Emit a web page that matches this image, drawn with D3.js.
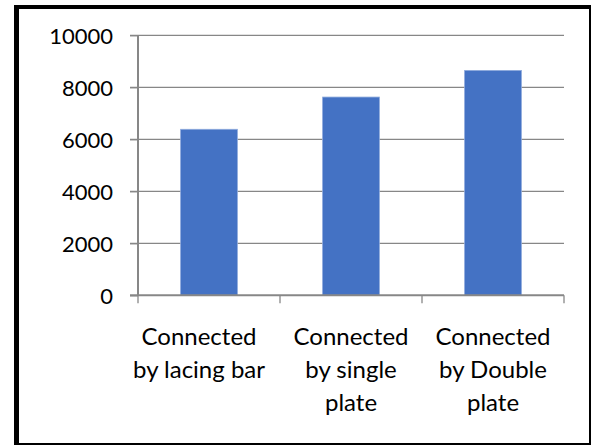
<!DOCTYPE html>
<html>
<head>
<meta charset="utf-8">
<script src="https://cdn.jsdelivr.net/npm/d3@7/dist/d3.min.js"></script>
<style>
  html, body { margin: 0; padding: 0; background: #fff; }
  svg { display: block; }
  text { font-family: Lato, "Open Sans", sans-serif; fill: #000; }
</style>
</head>
<body>
<svg id="chart" width="592" height="447"></svg>
<script>
// Connection type and the load each arrangement carries
const categories = [
  ["Connected", "by lacing bar"],
  ["Connected", "by single", "plate"],
  ["Connected", "by Double", "plate"]
];
const values = [6385, 7625, 8650];
const yTicks = [0, 2000, 4000, 6000, 8000, 10000];

(function draw() {
  const svg = d3.select("#chart");
  const W = 592, H = 447;

  // frame around the whole chart
  svg.append("rect").attr("x", 0).attr("y", 0).attr("width", W).attr("height", H).attr("fill", "#fff");
  svg.append("rect").attr("x", 14).attr("y", 5).attr("width", 5).attr("height", 440).attr("fill", "#000");
  svg.append("rect").attr("x", 14).attr("y", 5).attr("width", 577).attr("height", 4).attr("fill", "#000");
  svg.append("rect").attr("x", 589).attr("y", 5).attr("width", 2).attr("height", 440).attr("fill", "#000");
  svg.append("rect").attr("x", 14).attr("y", 443).attr("width", 577).attr("height", 2).attr("fill", "#000");

  const plotL = 138, plotR = 564, plotT = 35.3, plotB = 295.3;

  const x = d3.scaleBand()
    .domain(d3.range(categories.length))
    .range([plotL, plotR])
    .paddingInner(0.6)
    .paddingOuter(0.3);

  const y = d3.scaleLinear().domain([0, 10000]).range([plotB, plotT]);

  const grid = "#878787";

  // horizontal gridlines
  svg.append("g")
    .selectAll("line")
    .data(yTicks.filter(d => d > 0))
    .join("line")
    .attr("x1", plotL - 8).attr("x2", plotR)
    .attr("y1", d => y(d)).attr("y2", d => y(d))
    .attr("stroke", grid).attr("stroke-width", 1.3);

  // bars
  svg.append("g")
    .selectAll("rect")
    .data(values)
    .join("rect")
    .attr("x", (d, i) => x(i))
    .attr("width", x.bandwidth())
    .attr("y", d => y(d))
    .attr("height", d => y(0) - y(d))
    .attr("fill", "#4472C4")
    .attr("stroke", "#8FAADC")
    .attr("stroke-width", 0.8);

  // y axis
  const yAxis = d3.axisLeft(y).tickValues(yTicks).tickSize(8).tickPadding(17).tickFormat(d3.format("d"));
  const gy = svg.append("g").attr("transform", `translate(${plotL},0)`).call(yAxis);
  gy.select(".domain").attr("stroke", grid).attr("stroke-width", 2).attr("d", `M0,${plotT}V${plotB}`);
  gy.selectAll(".tick line").attr("stroke", grid).attr("stroke-width", 1.3);
  gy.selectAll(".tick text").style("font-size", "22px").style("font-family", "Lato, sans-serif").attr("fill", "#000").attr("dy", "0.36em");

  // x axis baseline and category boundary ticks
  const step = x.step();
  const boundaries = d3.range(categories.length + 1).map(i => plotL + i * step);
  svg.append("line")
    .attr("x1", plotL - 8).attr("x2", plotR)
    .attr("y1", plotB).attr("y2", plotB)
    .attr("stroke", grid).attr("stroke-width", 2);
  svg.append("g")
    .selectAll("line")
    .data(boundaries)
    .join("line")
    .attr("x1", d => d).attr("x2", d => d)
    .attr("y1", plotB).attr("y2", plotB + 8)
    .attr("stroke", grid).attr("stroke-width", 1.3);

  // wrapped category labels
  const labelShift = [-10, 0, 0];
  const lab = svg.append("g")
    .selectAll("text")
    .data(categories)
    .join("text")
    .attr("text-anchor", "middle")
    .style("font-size", "24px")
    .attr("transform", (d, i) => `translate(${x(i) + x.bandwidth() / 2 + labelShift[i]},345)`);
  lab.selectAll("tspan")
    .data(d => d)
    .join("tspan")
    .attr("x", 0)
    .attr("y", (d, j) => j * 33)
    .text(d => d);
})();
</script>
</body>
</html>
